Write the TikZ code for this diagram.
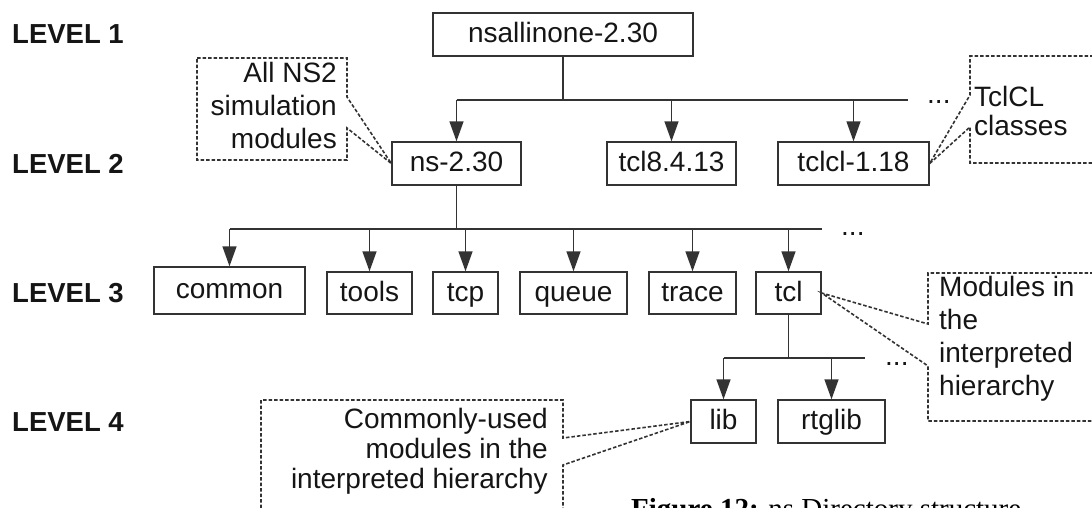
\documentclass[tikz,border=0pt]{standalone}
\usepackage{fontspec}
\setmainfont{Liberation Sans}
\newfontfamily\capfont{Liberation Serif}
\usetikzlibrary{arrows.meta}
\definecolor{lc}{HTML}{333333}
\definecolor{tc}{HTML}{151515}
\tikzset{
  box/.style={draw=lc, line width=1.4pt, inner sep=0pt, minimum height=43pt,
    font=\fontsize{28}{32}\selectfont, text=tc, text height=20pt, text depth=4pt},
  lvl/.style={font=\bfseries\fontsize{27.5}{30}\selectfont, anchor=base west, text=tc, inner sep=0pt},
  conn/.style={draw=lc, line width=1.4pt},
  arr/.style={conn, -{Triangle[length=20pt,width=14pt]}},
  dsh/.style={draw=lc, line width=1.6pt, dash pattern=on 3.5pt off 2pt},
  note/.style={text=tc, inner sep=0pt},
  dots/.style={font=\fontsize{28}{32}\selectfont, text=tc, anchor=base west, inner sep=0pt}
}
\begin{document}
\begin{tikzpicture}[x=1pt,y=-1pt]
\useasboundingbox (0,0) rectangle (1092,507);
\clip (0,0) rectangle (1092,507);

% level labels
\node[lvl] (l1) at (12,43.5) {LEVEL 1};
\node[lvl] (l2) at (12,173) {LEVEL 2};
\node[lvl] (l3) at (12,302) {LEVEL 3};
\node[lvl] (l4) at (12,431) {LEVEL 4};

% boxes
\node[box, minimum width=260pt] (nsall) at (563,34.5) {nsallinone-2.30};
\node[box, minimum width=129pt] (ns) at (456.5,163.5) {ns-2.30};
\node[box, minimum width=129pt] (tcle) at (671.5,163.5) {tcl8.4.13};
\node[box, minimum width=151pt] (tclcl) at (853.5,163.5) {tclcl-1.18};

\node[box, minimum width=151pt, minimum height=47pt] (common) at (229.5,290.5) {common};
\node[box, minimum width=85pt, minimum height=42pt] (tools) at (369.5,293) {tools};
\node[box, minimum width=65pt, minimum height=42pt] (tcp) at (465.5,293) {tcp};
\node[box, minimum width=107pt, minimum height=42pt] (queue) at (573.5,293) {queue};
\node[box, minimum width=87pt, minimum height=42pt] (trace) at (692.5,293) {trace};
\node[box, minimum width=65pt, minimum height=42pt] (tcl) at (788.5,293) {tcl};

\node[box, minimum width=65pt] (lib) at (723.5,421.5) {lib};
\node[box, minimum width=107pt] (rtglib) at (831.5,421.5) {rtglib};

% level 2 connectors
\coordinate (r2) at (908,100);
\draw[conn] (nsall.south) -- (nsall.south |- r2);
\draw[conn] (ns.north |- r2) -- (r2);
\draw[arr] (ns.north |- r2) -- (ns.north);
\draw[arr] (tcle.north |- r2) -- (tcle.north);
\draw[arr] (tclcl.north |- r2) -- (tclcl.north);
\node[dots] (d2) at (927,103) {...};

% level 3 connectors
\coordinate (r3) at (822,229);
\draw[conn] (ns.south) -- (ns.south |- r3);
\draw[conn] (common.north |- r3) -- (r3);
\foreach \n in {common,tools,tcp,queue,trace,tcl}
  \draw[arr] (\n.north |- r3) -- (\n.north);
\node[dots] (d3) at (841,235) {...};

% level 4 connectors
\coordinate (r4) at (865,358);
\draw[conn] (tcl.south) -- (tcl.south |- r4);
\draw[conn] (lib.north |- r4) -- (r4);
\draw[arr] (lib.north |- r4) -- (lib.north);
\draw[arr] (rtglib.north |- r4) -- (rtglib.north);
\node[dots] (d4) at (885,365) {...};

% callouts
\node[note, align=right, anchor=east, font=\fontsize{28}{33}\selectfont] (n1) at (337,105) {All NS2\\simulation\\modules};
\draw[dsh] (197,58) -- (347,58) -- (347,97) -- (ns.west) -- (347,128) -- (347,160) -- (197,160) -- cycle;

\node[note, align=left, anchor=west, font=\fontsize{28}{29}\selectfont] (n2) at (974,111) {TclCL\\classes};
\draw[dsh] (1110,56) -- (970,56) -- (970,95) -- (tclcl.east) -- (970,127) -- (970,163) -- (1110,163);

\node[note, align=left, anchor=west, font=\fontsize{28}{33}\selectfont] (n3) at (939,339) {Modules in\\the\\interpreted\\hierarchy};
\draw[dsh] (1110,273) -- (928,273) -- (928,324) -- (tcl.east) -- (928,366) -- (928,421) -- (1110,421);

\node[note, align=right, anchor=east, font=\fontsize{28}{30}\selectfont] (n4) at (548,451) {Commonly-used\\modules in the\\interpreted hierarchy};
\draw[dsh] (261,530) -- (261,400) -- (563,400) -- (563,438) -- (lib.west) -- (563,465) -- (563,530);

% caption (cut off at the bottom edge, as in the reference)
\node[anchor=base west, inner sep=0pt, font=\capfont\fontsize{29}{32}\selectfont, text=black] (cap) at (631,518) {\textbf{Figure 12:} ns Directory structure};
\end{tikzpicture}
\end{document}
